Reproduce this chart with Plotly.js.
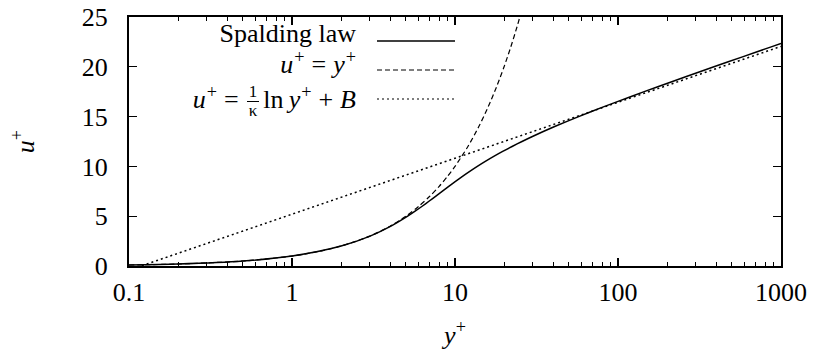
<!DOCTYPE html>
<html>
<head>
<meta charset="utf-8">
<script src="https://cdn.plot.ly/plotly-3.0.1.min.js"></script>
<style>
  html, body { margin: 0; padding: 0; background: #fff; }
  #figure { position: relative; width: 818px; height: 358px; }
  #plot { position: absolute; left: 0; top: 0; width: 818px; height: 358px; }
  #plot svg text, #plot svg tspan { font-family: 'Liberation Serif', 'Times New Roman', serif !important; }
  .key {
    position: absolute; left: 0; width: 356px; text-align: right; white-space: nowrap;
    font-family: 'Liberation Serif', 'Times New Roman', serif; font-size: 26px; line-height: 26px; color: #000;
  }
  .key i { font-style: italic; }
  .key .sp { font-size: 70%; position: relative; top: -0.55em; margin-left: 1px; }
  .key .op { margin: 0 7px; }
  .key .frac {
    display: inline-block; vertical-align: middle; text-align: center;
    font-size: 17px; line-height: 16px; margin: 0 4px 0 1px; position: relative; top: -1px;
  }
  .key .frac .num { display: block; border-bottom: 1px solid #000; padding: 0 2px 1px; }
  .key .frac .den { display: block; padding-top: 1px; }
</style>
</head>
<body>
<div id="figure">
  <div id="plot"></div>
  <div class="key" style="top:21px">Spalding law</div>
  <div class="key" style="top:52px"><i>u</i><span class="sp">+</span><span class="op">=</span><i>y</i><span class="sp">+</span></div>
  <div class="key" style="top:85px"><i>u</i><span class="sp">+</span><span class="op">=</span><span class="frac"><span class="num">1</span><span class="den">κ</span></span>ln&thinsp;<i>y</i><span class="sp">+</span><span class="op">+</span><i>B</i></div>
</div>
<script>
// Spalding's law of the wall (kappa = 0.41), sampled as (y+, u+) pairs
const spaldingY = [0.1, 0.2, 0.5, 1.0001, 2.0024, 3.0131, 4.0456, 5.1238, 5.6916, 6.2871, 6.9192,
  7.5987, 8.3391, 9.1573, 10.074, 11.116, 12.314, 13.707, 15.345, 17.287, 19.608, 22.396, 25.765,
  29.850, 40.883, 57.357, 82.086, 119.31, 175.41, 260.04, 387.71, 580.31, 870.82, 1000];
const spaldingU = [0.1, 0.2, 0.5, 1, 2, 3, 4, 5, 5.5, 6, 6.5,
  7, 7.5, 8, 8.5, 9, 9.5, 10, 10.5, 11, 11.5, 12, 12.5,
  13, 14, 15, 16, 17, 18, 19, 20, 21, 22, 22.34];

// Viscous sublayer u+ = y+
const linearY = [0.1, 0.2, 0.5, 1, 1.5, 2, 3, 4, 5, 6, 7, 8, 9, 10, 12, 14, 16, 18, 20, 22, 24, 26];
const linearU = [0.1, 0.2, 0.5, 1, 1.5, 2, 3, 4, 5, 6, 7, 8, 9, 10, 12, 14, 16, 18, 20, 22, 24, 26];

// Log law u+ = (1/kappa) ln y+ + B
const logLawY = [0.12, 1000];
const logLawU = [0.03, 22.05];

// Axis ticks
const xTickVals = [0.1, 1, 10, 100, 1000];
const xTickText = ['0.1', '1', '10', '100', '1000'];
const yTickVals = [0, 5, 10, 15, 20, 25];

const minorX = [];
[0.1, 1, 10, 100].forEach(d => { for (let m = 2; m <= 9; m++) minorX.push(+(m * d).toPrecision(3)); });

const SERIF = 'Liberation Serif';
const BLACK = '#000';

const traces = [
  { x: spaldingY, y: spaldingU, mode: 'lines', name: 'Spalding law',
    line: { color: BLACK, width: 1.5, shape: 'spline', smoothing: 0.8 } },
  { x: linearY, y: linearU, mode: 'lines', name: 'u+ = y+',
    line: { color: BLACK, width: 1.2, dash: '5px,3px', shape: 'spline', smoothing: 0.8 } },
  { x: logLawY, y: logLawU, mode: 'lines', name: 'log law',
    line: { color: BLACK, width: 1.5, dash: '2px,3px' } }
];

// plot area in pixels: left 129, right 781, top 17, bottom 266
const L = 129, R = 781, T = 17, B = 266;
const px = v => (v - L) / (R - L);
const py = v => (B - v) / (B - T);

// key sample lines, one per row of the key text
const keyX0 = px(377), keyX1 = px(455);
const rows = [41, 70, 99];
const dashes = ['solid', '5px,3px', '2px,3px'];
const shapes = rows.map((r, i) => ({
  type: 'line', xref: 'paper', yref: 'paper', x0: keyX0, x1: keyX1, y0: py(r), y1: py(r),
  line: { color: BLACK, width: i === 0 ? 1.5 : 1.2, dash: dashes[i] }
}));

function axis(extra) {
  return Object.assign({
    showline: true, linecolor: BLACK, linewidth: 2, mirror: 'ticks',
    ticks: 'inside', ticklen: 8, tickwidth: 1.2, tickcolor: BLACK,
    showgrid: false, zeroline: false,
    tickfont: { family: SERIF, size: 26, color: BLACK }
  }, extra);
}

const layout = {
  width: 818, height: 358,
  margin: { l: L, r: 818 - R, t: T, b: 358 - B, pad: 0 },
  paper_bgcolor: 'rgba(0,0,0,0)', plot_bgcolor: 'rgba(0,0,0,0)',
  showlegend: false,
  font: { family: SERIF, size: 26, color: BLACK },
  xaxis: axis({
    type: 'log', range: [-1, 3], tickmode: 'array', tickvals: xTickVals, ticktext: xTickText,
    ticklabelstandoff: 2,
    minor: { tickmode: 'array', tickvals: minorX, ticks: 'inside', ticklen: 4, tickwidth: 1, tickcolor: BLACK, showgrid: false },
    title: { text: '<i>y</i><sup>+</sup>', font: { family: SERIF, size: 26, color: BLACK }, standoff: 20 }
  }),
  yaxis: axis({
    range: [0, 25], tickmode: 'array', tickvals: yTickVals,
    ticklabelstandoff: 14,
    title: { text: '<i>u</i><sup>+</sup>', font: { family: SERIF, size: 26, color: BLACK }, standoff: 40 }
  }),
  shapes: shapes
};

Plotly.newPlot('plot', traces, layout, { displayModeBar: false, staticPlot: true });
</script>
</body>
</html>
